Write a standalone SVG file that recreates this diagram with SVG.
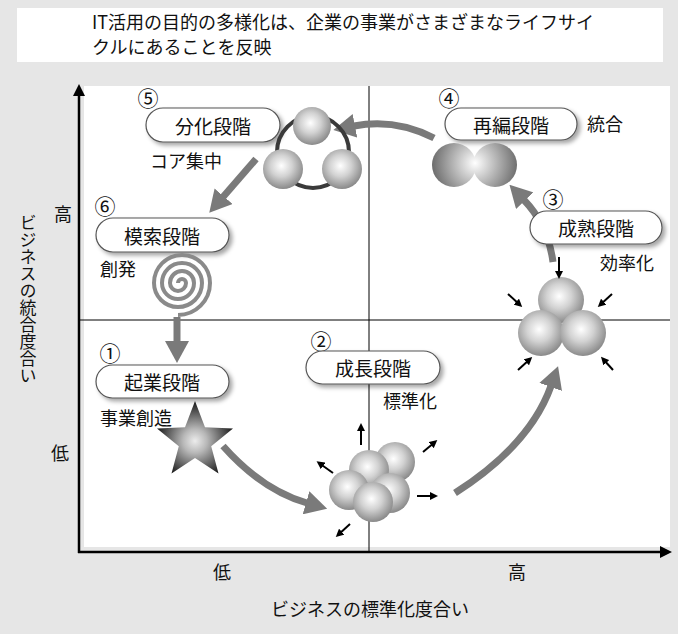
<svg xmlns="http://www.w3.org/2000/svg" width="678" height="634" viewBox="0 0 678 634">
  <style>
    text { font-family: "Noto Sans CJK JP", "Liberation Sans", sans-serif; fill: #111; }
    .title { font-size: 18px; }
    .pt { font-size: 19px; text-anchor: middle; dominant-baseline: central; }
    .lbl { font-size: 18px; dominant-baseline: central; }
    .num { font-size: 21px; text-anchor: middle; dominant-baseline: central; }
    .axl { font-size: 18px; text-anchor: middle; dominant-baseline: central; }
    .vert { font-size: 17px; writing-mode: vertical-rl; }
    .pill { fill: #fff; stroke: #555; stroke-width: 1.2; filter: url(#shadow); }
    .flow { fill: none; stroke: #7a7a7a; stroke-width: 7; marker-end: url(#bigHead); }
    .tick { stroke: #000; stroke-width: 2; marker-end: url(#smallHead); }
    .ball { fill: url(#sphere); }
  </style>
  <defs>
    <filter id="shadow" x="-10%" y="-30%" width="130%" height="180%">
      <feDropShadow dx="3" dy="3" stdDeviation="2" flood-color="#000" flood-opacity="0.35"/>
    </filter>
    <marker id="bigHead" markerUnits="userSpaceOnUse" viewBox="0 0 22 24" markerWidth="22" markerHeight="24" refX="1" refY="12" orient="auto">
      <path d="M0,0 L22,12 L0,24 Z" fill="#7a7a7a"/>
    </marker>
    <marker id="smallHead" markerUnits="userSpaceOnUse" viewBox="0 0 8 8" markerWidth="8" markerHeight="8" refX="5" refY="4" orient="auto">
      <path d="M0,0 L8,4 L0,8 Z" fill="#000"/>
    </marker>
    <marker id="axisHead" markerUnits="userSpaceOnUse" viewBox="0 0 12 12" markerWidth="12" markerHeight="12" refX="2" refY="6" orient="auto">
      <path d="M0,0 L12,6 L0,12 Z" fill="#000"/>
    </marker>
    <radialGradient id="sphere" cx="0.46" cy="0.42" r="0.6">
      <stop offset="0" stop-color="#ffffff"/>
      <stop offset="0.45" stop-color="#d2d2d2"/>
      <stop offset="1" stop-color="#858585"/>
    </radialGradient>
    <radialGradient id="merged" gradientUnits="userSpaceOnUse" cx="475" cy="163" r="46">
      <stop offset="0" stop-color="#ffffff"/>
      <stop offset="0.35" stop-color="#c8c8c8"/>
      <stop offset="1" stop-color="#626262"/>
    </radialGradient>
    <radialGradient id="starFill" gradientUnits="userSpaceOnUse" cx="195" cy="441" r="40">
      <stop offset="0" stop-color="#ececec"/>
      <stop offset="0.3" stop-color="#b8b8b8"/>
      <stop offset="1" stop-color="#151515"/>
    </radialGradient>
  </defs>

  <!-- page background and title panel -->
  <rect width="678" height="634" fill="#e6e6e6"/>
  <rect x="17" y="8" width="646" height="54" fill="#fff"/>
  <text class="title" x="92" y="29">IT活用の目的の多様化は、企業の事業がさまざまなライフサイ</text>
  <text class="title" x="92" y="54">クルにあることを反映</text>

  <!-- plot area, quadrant lines and axes -->
  <rect x="84" y="86" width="586" height="461" fill="#fff"/>
  <line x1="369" y1="86" x2="369" y2="552" stroke="#000" stroke-width="1"/>
  <line x1="79" y1="320" x2="670" y2="320" stroke="#000" stroke-width="1"/>
  <line x1="79" y1="553" x2="79" y2="94" stroke="#000" stroke-width="2.5" marker-end="url(#axisHead)"/>
  <line x1="78" y1="552" x2="662" y2="552" stroke="#000" stroke-width="2.5" marker-end="url(#axisHead)"/>

  <!-- axis labels -->
  <text class="axl" x="63" y="213">高</text>
  <text class="axl" x="60" y="452">低</text>
  <text class="axl" x="222" y="571">低</text>
  <text class="axl" x="517" y="571">高</text>
  <text class="axl" x="370" y="608">ビジネスの標準化度合い</text>
  <text class="vert" x="28" y="214">ビジネスの統合度合い</text>

  <!-- cycle connectors -->
  <g id="connectors">
    <path class="flow" d="M177,317 L177,342"/>
    <path class="flow" d="M223,446 Q262,490 307,503"/>
    <path class="flow" d="M455,493 Q530,445 551,386"/>
    <path class="flow" d="M553,262 Q548,225 524,200"/>
    <path class="flow" d="M434,138 Q395,118 354,126"/>
    <path class="flow" d="M256,159 Q236,182 223,197"/>
  </g>

  <!-- stage 1: startup -->
  <g id="stage1">
    <text class="num" x="110" y="352">①</text>
    <rect class="pill" x="96" y="365" width="133" height="33" rx="16.5"/>
    <text class="pt" x="162" y="381">起業段階</text>
    <text class="lbl" x="100" y="417">事業創造</text>
    <path d="M195,401 L205,427.2 L233,428.6 L211.2,446.3 L218.5,473.4 L195,458 L171.5,473.4 L178.8,446.3 L157,428.6 L185,427.2 Z" fill="url(#starFill)"/>
  </g>

  <!-- stage 2: growth -->
  <g id="stage2">
    <text class="num" x="321" y="340">②</text>
    <rect class="pill" x="306" y="351" width="134" height="33" rx="16.5"/>
    <text class="pt" x="373" y="367">成長段階</text>
    <text class="lbl" x="383" y="400">標準化</text>
    <circle class="ball" cx="395" cy="462" r="20"/>
    <circle class="ball" cx="369" cy="470" r="20"/>
    <circle class="ball" cx="349" cy="490" r="20"/>
    <circle class="ball" cx="390" cy="493" r="20"/>
    <circle class="ball" cx="373" cy="502" r="20"/>
    <line class="tick" x1="361" y1="445" x2="361" y2="426"/>
    <line class="tick" x1="333" y1="473" x2="319" y2="463"/>
    <line class="tick" x1="423" y1="452" x2="435" y2="442"/>
    <line class="tick" x1="417" y1="496" x2="435" y2="496"/>
    <line class="tick" x1="350" y1="524" x2="338" y2="535"/>
  </g>

  <!-- stage 3: maturity -->
  <g id="stage3">
    <text class="num" x="553" y="198">③</text>
    <rect class="pill" x="530" y="211" width="132" height="33" rx="16.5"/>
    <text class="pt" x="596" y="227">成熟段階</text>
    <text class="lbl" x="600" y="262">効率化</text>
    <circle class="ball" cx="561" cy="300" r="23"/>
    <circle class="ball" cx="541" cy="333" r="23"/>
    <circle class="ball" cx="583" cy="333" r="23"/>
    <line class="tick" x1="559" y1="257" x2="559" y2="276"/>
    <line class="tick" x1="508" y1="294" x2="520" y2="305"/>
    <line class="tick" x1="612" y1="294" x2="600" y2="305"/>
    <line class="tick" x1="518" y1="370" x2="530" y2="359"/>
    <line class="tick" x1="613" y1="370" x2="603" y2="359"/>
  </g>

  <!-- stage 4: reorganisation -->
  <g id="stage4">
    <text class="num" x="449" y="97">④</text>
    <rect class="pill" x="445" y="108" width="132" height="32" rx="16"/>
    <text class="pt" x="511" y="124">再編段階</text>
    <text class="lbl" x="587" y="123">統合</text>
    <circle cx="454" cy="165" r="22" fill="url(#merged)"/>
    <circle cx="495" cy="165" r="22" fill="url(#merged)"/>
  </g>

  <!-- stage 5: differentiation -->
  <g id="stage5">
    <text class="num" x="148" y="97">⑤</text>
    <rect class="pill" x="146" y="108" width="134" height="34" rx="17"/>
    <text class="pt" x="213" y="125">分化段階</text>
    <text class="lbl" x="150" y="160">コア集中</text>
    <circle cx="313" cy="152" r="36" fill="none" stroke="#3a3a3a" stroke-width="4"/>
    <circle class="ball" cx="312" cy="126" r="19"/>
    <circle class="ball" cx="283" cy="169" r="20"/>
    <circle class="ball" cx="342" cy="169" r="20"/>
  </g>

  <!-- stage 6: exploration -->
  <g id="stage6">
    <text class="num" x="105" y="205">⑥</text>
    <rect class="pill" x="96" y="218" width="133" height="34" rx="17"/>
    <text class="pt" x="162" y="235">模索段階</text>
    <text class="lbl" x="100" y="268">創発</text>
    <path d="M178,283 A4,4 0 0,1 186,283 A8,8 0 0,1 170,283 A12,12 0 0,1 194,283 A16,16 0 0,1 162,283 A20,20 0 0,1 202,283 A24,24 0 0,1 154,283 A28,28 0 0,1 210,283 A32,32 0 0,1 178,315" fill="none" stroke="#8a8a8a" stroke-width="4"/>
  </g>
</svg>
